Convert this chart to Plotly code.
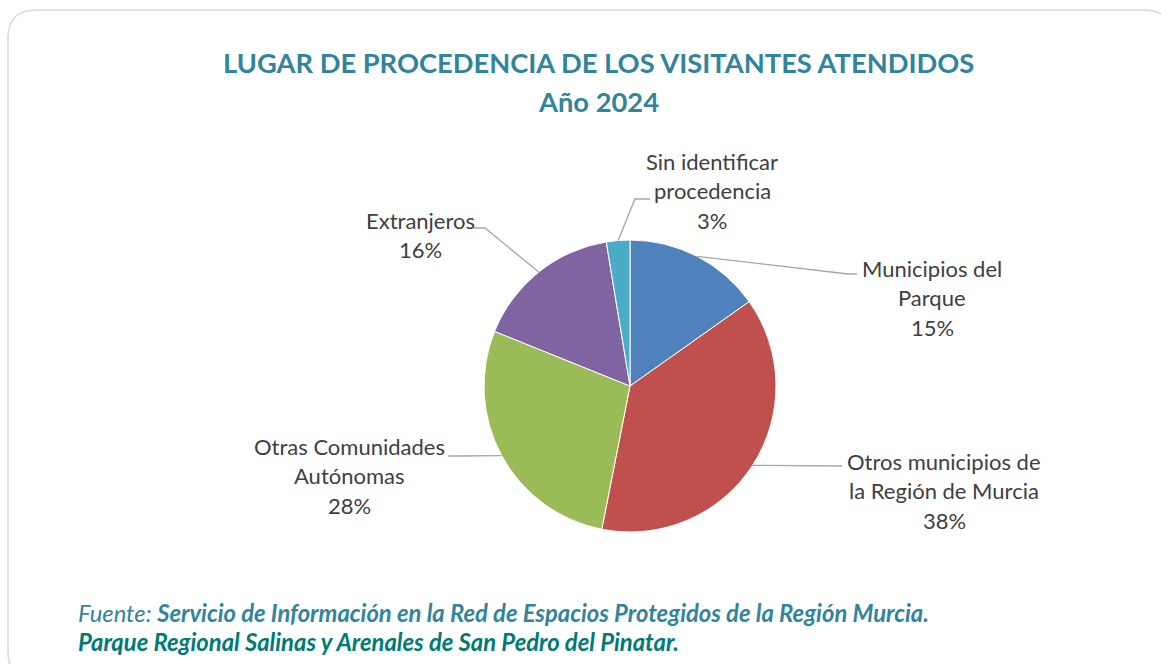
import math
import plotly.graph_objects as go

categories = ["Municipios del Parque", "Otros municipios de la Región de Murcia",
              "Otras Comunidades Autónomas", "Extranjeros", "Sin identificar procedencia"]
label_lines = [["Municipios del", "Parque"], ["Otros municipios de", "la Región de Murcia"],
               ["Otras Comunidades", "Autónomas"], ["Extranjeros"], ["Sin identificar", "procedencia"]]
values = [15.2, 37.9, 28.0, 16.3, 2.6]
colors = ["#4F81BD", "#C0504D", "#9BBB59", "#8064A2", "#4BACC6"]

W, H = 1161, 664
CX, CY, R = 630, 386, 146
FONT = "Lato"

def px(x):
    return x / W

def py(y):
    return 1 - y / H

fig = go.Figure(go.Pie(
    labels=categories, values=values, sort=False, direction="clockwise", rotation=0,
    marker=dict(colors=colors, line=dict(color="white", width=1)),
    textinfo="none", hoverinfo="label+percent", showlegend=False,
    domain=dict(x=[px(CX - R), px(CX + R)], y=[py(CY + R), py(CY - R)]),
))

# label layout (pixel positions of label centre and leader-line bends)
label_pos = [  # (centre x, first-line y, bend points toward label)
    (932, 268, [(848, 274), (857, 274)]),
    (944, 461, [(842, 466)]),
    (349, 446, [(458, 456), (448, 456)]),
    (420, 220, [(485, 228), (473, 228)]),
    (712, 161, [(635, 199), (650, 199)]),
]
LINE_H = 29.5

total = sum(values)
cum = 0
annotations = []
shapes = []
for i, v in enumerate(values):
    mid = (cum + v / 2) / total * 2 * math.pi
    cum += v
    ex = CX + R * math.sin(mid)
    ey = CY - R * math.cos(mid)
    pct = f"{round(v / total * 100):d}%"
    lines = label_lines[i] + [pct]
    lx, ly, bends = label_pos[i]
    for k, t in enumerate(lines):
        annotations.append(dict(x=px(lx), y=py(ly + k * LINE_H), xref="paper", yref="paper",
                                text=t, showarrow=False, xanchor="center", yanchor="middle",
                                font=dict(family=FONT, size=22, color="#404040")))
    pts = [(ex, ey)] + bends
    path = "M " + " L ".join(f"{px(a)},{py(b)}" for a, b in pts)
    shapes.append(dict(type="path", path=path, xref="paper", yref="paper",
                       line=dict(color="#A6A6A6", width=1.3)))

# frame with rounded corners
x0, y0, x1, y1, rr = 8, 10, 1172, 680, 28
frame = (f"M {px(x0 + rr)},{py(y0)} L {px(x1 - rr)},{py(y0)} "
         f"Q {px(x1)},{py(y0)} {px(x1)},{py(y0 + rr)} L {px(x1)},{py(y1 - rr)} "
         f"Q {px(x1)},{py(y1)} {px(x1 - rr)},{py(y1)} L {px(x0 + rr)},{py(y1)} "
         f"Q {px(x0)},{py(y1)} {px(x0)},{py(y1 - rr)} L {px(x0)},{py(y0 + rr)} "
         f"Q {px(x0)},{py(y0)} {px(x0 + rr)},{py(y0)} Z")
shapes.append(dict(type="path", path=frame, xref="paper", yref="paper",
                   line=dict(color="#D9D9D9", width=1.5), layer="below"))

annotations.append(dict(x=px(598), y=py(62), xref="paper", yref="paper", showarrow=False,
                        text="<b>LUGAR DE PROCEDENCIA DE LOS VISITANTES ATENDIDOS</b>",
                        font=dict(family=FONT, size=27.3, color="#31849B"), yanchor="middle"))
annotations.append(dict(x=px(598), y=py(101), xref="paper", yref="paper", showarrow=False,
                        text="<b>Año 2024</b>",
                        font=dict(family=FONT, size=27.3, color="#31849B"), yanchor="middle"))
annotations.append(dict(x=px(76), y=py(613), xref="paper", yref="paper", showarrow=False,
                        xanchor="left", yanchor="middle",
                        text="<i>Fuente: </i><b><i>Servicio de Información en la Red de Espacios Protegidos de la Región Murcia.</i></b>",
                        font=dict(family=FONT, size=23.8, color="#31849B")))
annotations.append(dict(x=px(76), y=py(642), xref="paper", yref="paper", showarrow=False,
                        xanchor="left", yanchor="middle",
                        text="<b><i>Parque Regional Salinas y Arenales de San Pedro del Pinatar.</i></b>",
                        font=dict(family=FONT, size=23.8, color="#007A73")))

fig.update_layout(width=W, height=H, margin=dict(l=0, r=0, t=0, b=0),
                  paper_bgcolor="white", plot_bgcolor="white",
                  annotations=annotations, shapes=shapes)
fig.write_html("out.html", config={"displayModeBar": False},
               post_script="document.body.style.margin='0px';document.body.style.overflow='hidden';")
